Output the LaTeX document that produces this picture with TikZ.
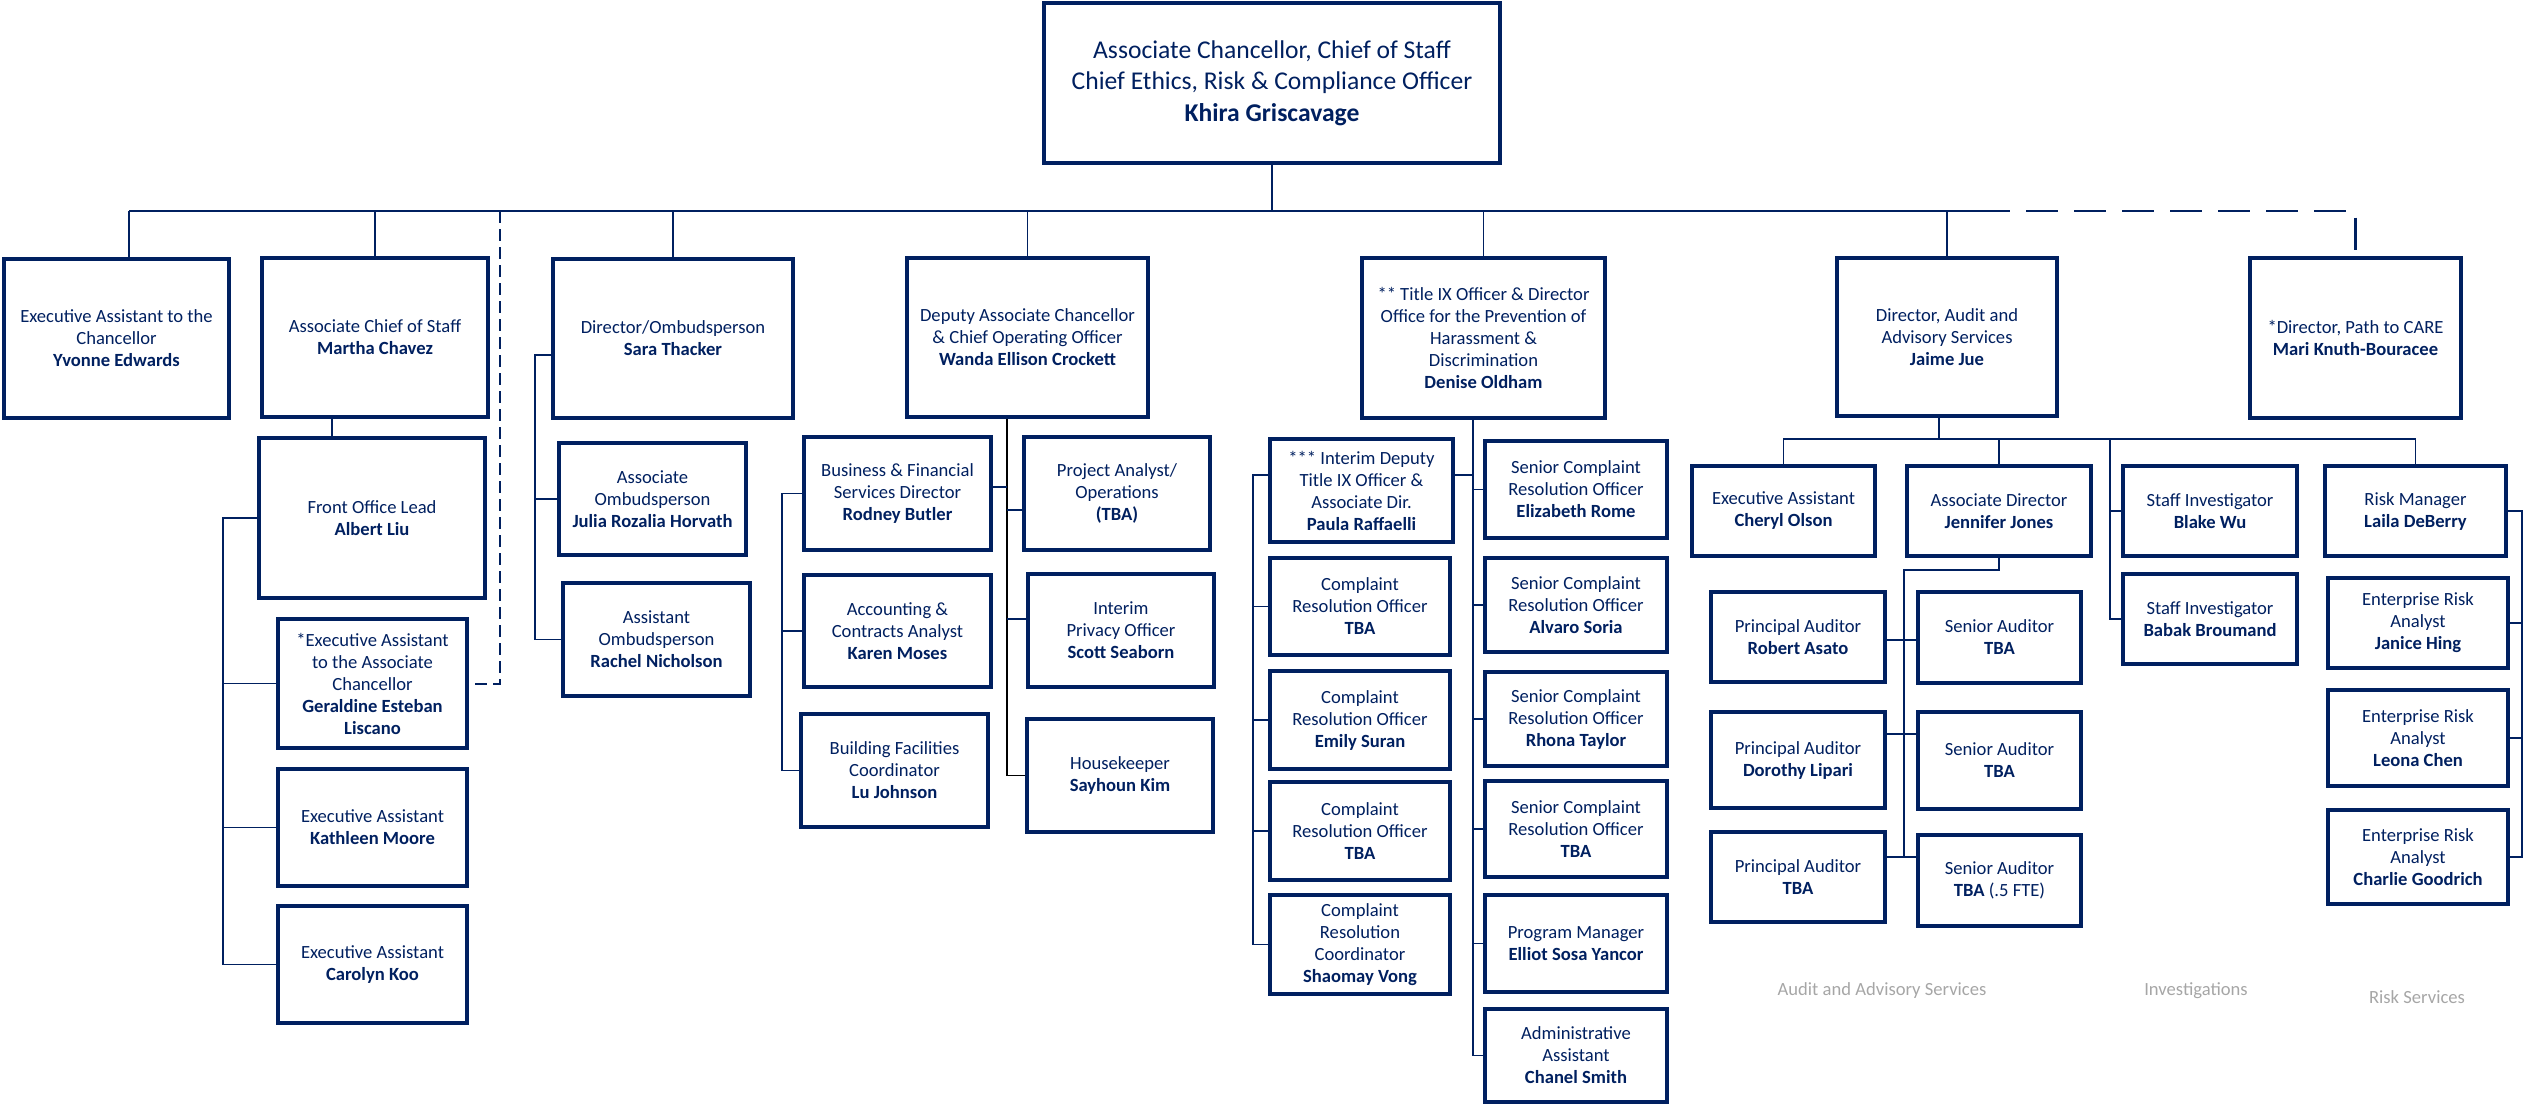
\documentclass[tikz,border=0pt]{standalone}
\usepackage{fontspec}
\setmainfont{Carlito}
\definecolor{navy}{RGB}{0,32,96}
\definecolor{lbl}{RGB}{166,166,166}
\newcommand{\obox}[6]{\node[box, minimum width={(#4-#2)*0.5pt}, minimum height={(#5-#3)*0.5pt}] (#1) at ({(#2+#4)/2},{(#3+#5)/2}) {#6};}
\tikzset{
  box/.style={draw=navy, line width=2.2pt, fill=white, align=center, inner sep=1pt, text=navy,
    font=\fontsize{9.3}{11}\selectfont},
  topbox/.style={box, font=\fontsize{12.8}{15.8}\selectfont},
  conn/.style={draw=navy, line width=0.85pt},
  blk/.style={draw=black, line width=0.85pt},
  dashA/.style={draw=navy, line width=1pt, dash pattern=on 6pt off 3pt},
  dashB/.style={draw=navy, line width=1.2pt, dash pattern=on 16pt off 8pt},
  grp/.style={text=lbl, font=\fontsize{9.3}{11}\selectfont}
}
\begin{document}
\begin{tikzpicture}[x=0.5pt,y=-0.5pt]
\useasboundingbox (0,0) rectangle (2524,1104);
% top
\node[topbox, minimum width=228pt, minimum height=80pt] (top) at (1272,83)
  {Associate Chancellor, Chief of Staff\\Chief Ethics, Risk \& Compliance Officer\\\textbf{Khira Griscavage}};
% level 1
\obox{ea}{4}{259}{229}{418}{Executive Assistant to the\\Chancellor\\\textbf{Yvonne Edwards}}
\obox{acs}{262}{258}{488}{417}{Associate Chief of Staff\\\textbf{Martha Chavez}}
\obox{omb}{553}{259}{793}{418}{Director/Ombudsperson\\\textbf{Sara Thacker}}
\obox{dep}{907}{258}{1148}{417}{Deputy Associate Chancellor\\\& Chief Operating Officer\\\textbf{Wanda Ellison Crockett}}
\obox{t9}{1362}{258}{1605}{418}{** Title IX Officer \& Director\\Office for the Prevention of\\Harassment \&\\Discrimination\\\textbf{Denise Oldham}}
\obox{aud}{1837}{258}{2057}{416}{Director, Audit and\\Advisory Services\\\textbf{Jaime Jue}}
\obox{care}{2250}{258}{2461}{418}{*Director, Path to CARE\\\textbf{Mari Knuth-Bouracee}}
% chief of staff branch
\obox{fol}{259}{438}{485}{598}{Front Office Lead\\\textbf{Albert Liu}}
\obox{ger}{278}{619}{467}{748}{*Executive Assistant\\to the Associate\\Chancellor\\\textbf{Geraldine Esteban}\\\textbf{Liscano}}
\obox{kat}{278}{769}{467}{886}{Executive Assistant\\\textbf{Kathleen Moore}}
\obox{car}{278}{906}{467}{1023}{Executive Assistant\\\textbf{Carolyn Koo}}
% ombuds branch
\obox{jul}{559}{443}{746}{555}{Associate\\Ombudsperson\\\textbf{Julia Rozalia Horvath}}
\obox{rac}{563}{583}{750}{696}{Assistant\\Ombudsperson\\\textbf{Rachel Nicholson}}
% deputy branch
\obox{bfs}{804}{437}{991}{550}{Business \& Financial\\Services Director\\\textbf{Rodney Butler}}
\obox{acc}{804}{575}{991}{687}{Accounting \&\\Contracts Analyst\\\textbf{Karen Moses}}
\obox{bld}{801}{714}{988}{827}{Building Facilities\\Coordinator\\\textbf{Lu Johnson}}
\obox{pa}{1024}{437}{1210}{550}{Project Analyst/\\Operations\\\textbf{(TBA)}}
\obox{prv}{1028}{574}{1214}{687}{Interim\\Privacy Officer\\\textbf{Scott Seaborn}}
\obox{hk}{1027}{719}{1213}{832}{Housekeeper\\\textbf{Sayhoun Kim}}
% title IX branch
\obox{pau}{1270}{439}{1453}{542}{*** Interim Deputy\\Title IX Officer \&\\Associate Dir.\\\textbf{Paula Raffaelli}}
\obox{cr1}{1270}{558}{1450}{655}{Complaint\\Resolution Officer\\\textbf{TBA}}
\obox{emi}{1270}{671}{1450}{769}{Complaint\\Resolution Officer\\\textbf{Emily Suran}}
\obox{cr2}{1270}{782}{1450}{880}{Complaint\\Resolution Officer\\\textbf{TBA}}
\obox{sha}{1270}{895}{1450}{994}{Complaint\\Resolution\\Coordinator\\\textbf{Shaomay Vong}}
\obox{eli}{1485}{441}{1667}{538}{Senior Complaint\\Resolution Officer\\\textbf{Elizabeth Rome}}
\obox{alv}{1485}{558}{1667}{652}{Senior Complaint\\Resolution Officer\\\textbf{Alvaro Soria}}
\obox{rho}{1485}{672}{1667}{766}{Senior Complaint\\Resolution Officer\\\textbf{Rhona Taylor}}
\obox{sct}{1485}{781}{1667}{877}{Senior Complaint\\Resolution Officer\\\textbf{TBA}}
\obox{pm}{1485}{895}{1667}{992}{Program Manager\\\textbf{Elliot Sosa Yancor}}
\obox{cha}{1485}{1009}{1667}{1102}{Administrative\\Assistant\\\textbf{Chanel Smith}}
% audit branch
\obox{che}{1692}{466}{1875}{556}{Executive Assistant\\\textbf{Cheryl Olson}}
\obox{jen}{1907}{466}{2091}{556}{Associate Director\\\textbf{Jennifer Jones}}
\obox{bla}{2123}{466}{2297}{556}{Staff Investigator\\\textbf{Blake Wu}}
\obox{bab}{2123}{574}{2297}{664}{Staff Investigator\\\textbf{Babak Broumand}}
\obox{lai}{2325}{466}{2506}{556}{Risk Manager\\\textbf{Laila DeBerry}}
\obox{jan}{2328}{578}{2508}{668}{Enterprise Risk\\Analyst\\\textbf{Janice Hing}}
\obox{leo}{2328}{690}{2508}{786}{Enterprise Risk\\Analyst\\\textbf{Leona Chen}}
\obox{chr}{2328}{810}{2508}{904}{Enterprise Risk\\Analyst\\\textbf{Charlie Goodrich}}
\obox{rob}{1711}{592}{1885}{682}{Principal Auditor\\\textbf{Robert Asato}}
\obox{dor}{1711}{712}{1885}{808}{Principal Auditor\\\textbf{Dorothy Lipari}}
\obox{pat}{1711}{832}{1885}{922}{Principal Auditor\\\textbf{TBA}}
\obox{sa1}{1918}{592}{2081}{683}{Senior Auditor\\\textbf{TBA}}
\obox{sa2}{1918}{712}{2081}{809}{Senior Auditor\\\textbf{TBA}}
\obox{sa3}{1918}{835}{2081}{926}{Senior Auditor\\\textbf{TBA} (.5 FTE)}
% group labels
\node[grp] (lblA) at (1882,991) {Audit and Advisory Services};
\node[grp] (lblI) at (2196,991) {Investigations};
\node[grp] (lblR) at (2417,997) {Risk Services};

% ---------- connectors ----------
\coordinate (busL) at (129,211);
\coordinate (busR) at (1978,211);
\coordinate (dl) at (500,211);
\draw[conn] (top.south) -- (top.south |- busL);
\draw[conn] (busL) -- (busR);
\draw[conn] (busL) -- (ea.north -| busL);
\draw[conn] (acs.north |- busL) -- (acs.north);
\draw[conn] (omb.north |- busL) -- (omb.north);
\draw[conn] (dep.north |- busL) -- (dep.north);
\draw[conn] (t9.north |- busL) -- (t9.north);
\draw[conn] (aud.north |- busL) -- (aud.north);
\draw[dashB] (busR) -| (care.north);
\draw[dashA] (dl) |- (ger.east);
% chief of staff
\draw[conn] (acs.south -| 332,0) -- (fol.north -| 332,0);
\coordinate (fs) at (223,0);
\draw[conn] (fol.west) -| (car.west -| fs) -- (car.west);
\draw[conn] (ger.west -| fs) -- (ger.west);
\draw[conn] (kat.west -| fs) -- (kat.west);
% ombuds
\coordinate (os) at (535,355);
\draw[conn] (omb.west |- os) -- (os) |- (rac.west);
\draw[conn] (jul.west -| os) -- (jul.west);
% deputy
\coordinate (ds) at (1007,0);
\draw[blk] (dep.south -| ds) -- (hk.west -| ds) -- (hk.west);
\draw[conn] (bfs.east |- 0,487) -- (ds |- 0,487);
\draw[conn] (ds |- 0,510) -- (pa.west |- 0,510);
\draw[conn] (ds |- 0,619) -- (prv.west |- 0,619);
\coordinate (bs) at (782,0);
\draw[conn] (bfs.west) -| (bld.west -| bs) -- (bld.west);
\draw[conn] (acc.west -| bs) -- (acc.west);
% title IX
\coordinate (ts) at (1473,0);
\draw[conn] (t9.south -| ts) -- (cha.west -| ts) -- (cha.west);
\foreach \n in {eli,alv,rho,sct,pm} \draw[conn] (\n.west -| ts) -- (\n.west);
\draw[conn] (pau.east |- 0,475) -- (ts |- 0,475);
\coordinate (ls) at (1253,475);
\draw[conn] (pau.west |- ls) -- (ls) |- (sha.west);
\foreach \n in {cr1,emi,cr2} \draw[conn] (\n.west -| ls) -- (\n.west);
% audit
\coordinate (ab) at (1939,439);
\draw[conn] (aud.south -| ab) -- (ab);
\draw[conn] (che.north) -- (che.north |- ab) -- (lai.north |- ab) -- (lai.north);
\draw[conn] (jen.north |- ab) -- (jen.north);
\coordinate (is) at (2110,439);
\draw[conn] (is) |- (bab.west);
\draw[conn] (bla.west -| is) -- (bla.west);
\coordinate (js) at (1904,570);
\draw[conn] (jen.south) |- (js) -- (js |- 0,857);
\draw[conn] (rob.east |- 0,640) -- (sa1.west |- 0,640);
\draw[conn] (dor.east |- 0,734) -- (sa2.west |- 0,734);
\draw[conn] (pat.east |- 0,857) -- (sa3.west |- 0,857);
% risk
\coordinate (rs) at (2522,0);
\draw[conn] (lai.east) -- (lai.east -| rs) -- (chr.east -| rs) -- (chr.east);
\draw[conn] (jan.east) -- (jan.east -| rs);
\draw[conn] (leo.east) -- (leo.east -| rs);
\end{tikzpicture}
\end{document}
